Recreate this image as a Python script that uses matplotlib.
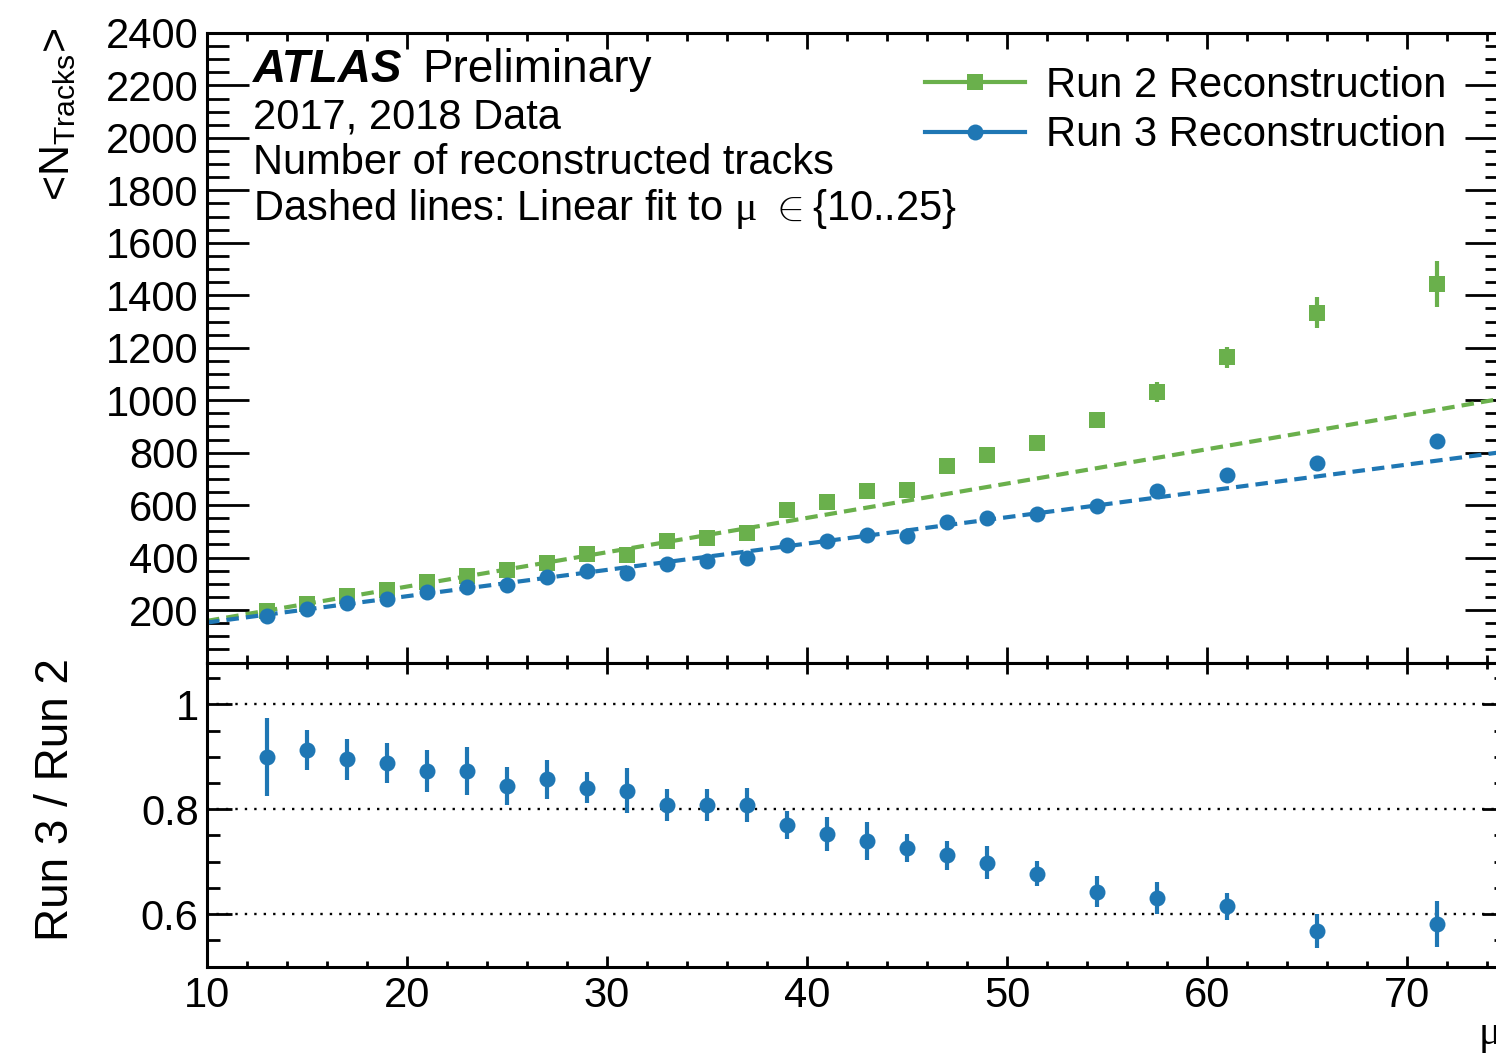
import numpy as np
import matplotlib
matplotlib.use('Agg')
import matplotlib.pyplot as plt
from matplotlib.lines import Line2D
from matplotlib.ticker import MultipleLocator, FuncFormatter

plt.rcParams['font.family'] = ['Liberation Sans', 'DejaVu Sans']
plt.rcParams['mathtext.fontset'] = 'custom'
plt.rcParams['mathtext.rm'] = 'Liberation Serif'
plt.rcParams['mathtext.sf'] = 'Liberation Sans'
plt.rcParams['axes.linewidth'] = 2.2

# data
mu = [13, 15, 17, 19, 21, 23, 25, 27, 29, 31, 33, 35, 37, 39, 41, 43, 45, 47, 49,
      51.5, 54.5, 57.5, 61, 65.5, 71.5]
run2 = [196, 223, 253, 276, 306, 329, 352, 379, 413, 409, 462, 474, 493, 580, 611,
        653, 657, 748, 790, 835, 923, 1030, 1163, 1334, 1444]
run2_err = [8, 8, 8, 9, 9, 9, 10, 10, 10, 11, 11, 12, 12, 14, 15, 16, 17, 18, 20,
            20, 30, 38, 40, 60, 88]
run3 = [177, 204, 226, 242, 268, 287, 295, 325, 348, 341, 375, 386, 398, 447, 462,
        485, 481, 535, 550, 566, 596, 653, 714, 759, 843]
run3_err = [6, 6, 6, 7, 7, 7, 8, 8, 8, 9, 9, 9, 10, 10, 11, 11, 12, 12, 13,
            13, 14, 15, 16, 17, 30]
ratio = [0.900, 0.913, 0.895, 0.888, 0.873, 0.873, 0.845, 0.857, 0.841, 0.835,
         0.808, 0.808, 0.808, 0.770, 0.753, 0.740, 0.726, 0.712, 0.698, 0.677,
         0.643, 0.631, 0.615, 0.568, 0.581]
ratio_err = [0.075, 0.038, 0.040, 0.038, 0.041, 0.045, 0.036, 0.037, 0.030, 0.043,
             0.030, 0.031, 0.032, 0.026, 0.033, 0.036, 0.026, 0.027, 0.032, 0.024,
             0.029, 0.031, 0.026, 0.032, 0.044]
fit_max = 25
green = '#6ab04c'
blue = '#1f77b4'
fs = 30

mu = np.array(mu)
W, H = 1496, 1053
fig = plt.figure(figsize=(W / 100, H / 100), dpi=100)
left, right = 207 / W, 1507 / W
mid = 1 - 662.5 / H
ax1 = fig.add_axes([left, mid, right - left, (1 - 33 / H) - mid])
ax2 = fig.add_axes([left, 1 - 966.5 / H, right - left, mid - (1 - 966.5 / H)], sharex=ax1)

# linear fits to the low-mu points
sel = mu <= fit_max
xx = np.array([10, 75])
for y, c in [(run2, green), (run3, blue)]:
    p = np.polyfit(mu[sel], np.array(y)[sel], 1)
    ax1.plot(xx, np.polyval(p, xx), color=c, lw=3, ls=(0, (3, 1.7)), zorder=2)

ax1.errorbar(mu, run2, yerr=run2_err, fmt='s', ms=11.5, mew=0, color=green,
             elinewidth=3, capsize=0, zorder=3)
ax1.errorbar(mu, run3, yerr=run3_err, fmt='o', ms=11.5, mew=0, color=blue,
             elinewidth=3, capsize=0, zorder=4)

ax1.set_xlim(10, 75)
ax1.set_ylim(0, 2400)
ax1.yaxis.set_major_locator(MultipleLocator(200))
ax1.yaxis.set_minor_locator(MultipleLocator(50))
ax1.yaxis.set_major_formatter(FuncFormatter(lambda v, p: '' if v == 0 else '%d' % v))
ax1.tick_params(axis='x', labelbottom=False)

ax1.set_ylabel(r'<N$_{\mathsf{Tracks}}$>', fontsize=31, loc='top')
ax1.yaxis.set_label_coords(-0.099, 1.008)

handles = [Line2D([], [], color=green, lw=3, marker='s', ms=11.5, mew=0),
           Line2D([], [], color=blue, lw=3, marker='o', ms=11.5, mew=0)]
ax1.legend(handles, ['Run 2 Reconstruction', 'Run 3 Reconstruction'],
           loc='upper left', bbox_to_anchor=(925 / W, 1 - 66 / H),
           bbox_transform=fig.transFigure, frameon=False, fontsize=fs,
           handlelength=2.4, handletextpad=0.5, labelspacing=0.22,
           borderpad=0, borderaxespad=0)

fig.text(253 / W, 1 - 82 / H, 'ATLAS', fontsize=33, weight='bold', style='italic')
fig.text(422 / W, 1 - 82 / H, 'Preliminary', fontsize=33)
fig.text(253 / W, 1 - 128 / H, '2017, 2018 Data', fontsize=fs)
fig.text(253 / W, 1 - 174 / H, 'Number of reconstructed tracks', fontsize=fs)
fig.text(253 / W, 1 - 220 / H, r'Dashed lines: Linear fit to $\mathrm{\mu}$ $\in${10..25}',
         fontsize=fs)

# ratio panel
for v in [0.6, 0.8, 1.0]:
    ax2.axhline(v, color='k', lw=1.7, ls=(0, (1, 3)), zorder=1)
ax2.errorbar(mu, ratio, yerr=ratio_err, fmt='o', ms=11.5, mew=0, color=blue,
             elinewidth=3, capsize=0, zorder=3)
ax2.set_ylim(0.5, 1.08)
ax2.yaxis.set_major_locator(MultipleLocator(0.2))
ax2.yaxis.set_minor_locator(MultipleLocator(0.05))
ax2.yaxis.set_major_formatter(FuncFormatter(lambda v, p: '%g' % round(v, 2)))
ax2.xaxis.set_major_locator(MultipleLocator(10))
ax2.xaxis.set_minor_locator(MultipleLocator(2))
ax2.set_ylabel('Run 3 / Run 2', fontsize=33)
ax2.yaxis.set_label_coords(-0.099, 0.548)
ax2.set_xlabel(r'$\mathrm{\mu}$', fontsize=fs, loc='right')
ax2.xaxis.set_label_coords(0.995, -0.16)

for ax, (xmaj, xmin, ymaj, ymin) in [(ax1, (11.5, 5.8, 30, 16)), (ax2, (8, 4, 18, 9.4))]:
    ax.tick_params(which='both', direction='in', top=True, right=True, width=2,
                   labelsize=fs, pad=6)
    ax.tick_params(axis='x', which='major', length=xmaj, pad=7)
    ax.tick_params(axis='x', which='minor', length=xmin)
    ax.tick_params(axis='y', which='major', length=ymaj)
    ax.tick_params(axis='y', which='minor', length=ymin)

fig.savefig('out.png', dpi=100)
